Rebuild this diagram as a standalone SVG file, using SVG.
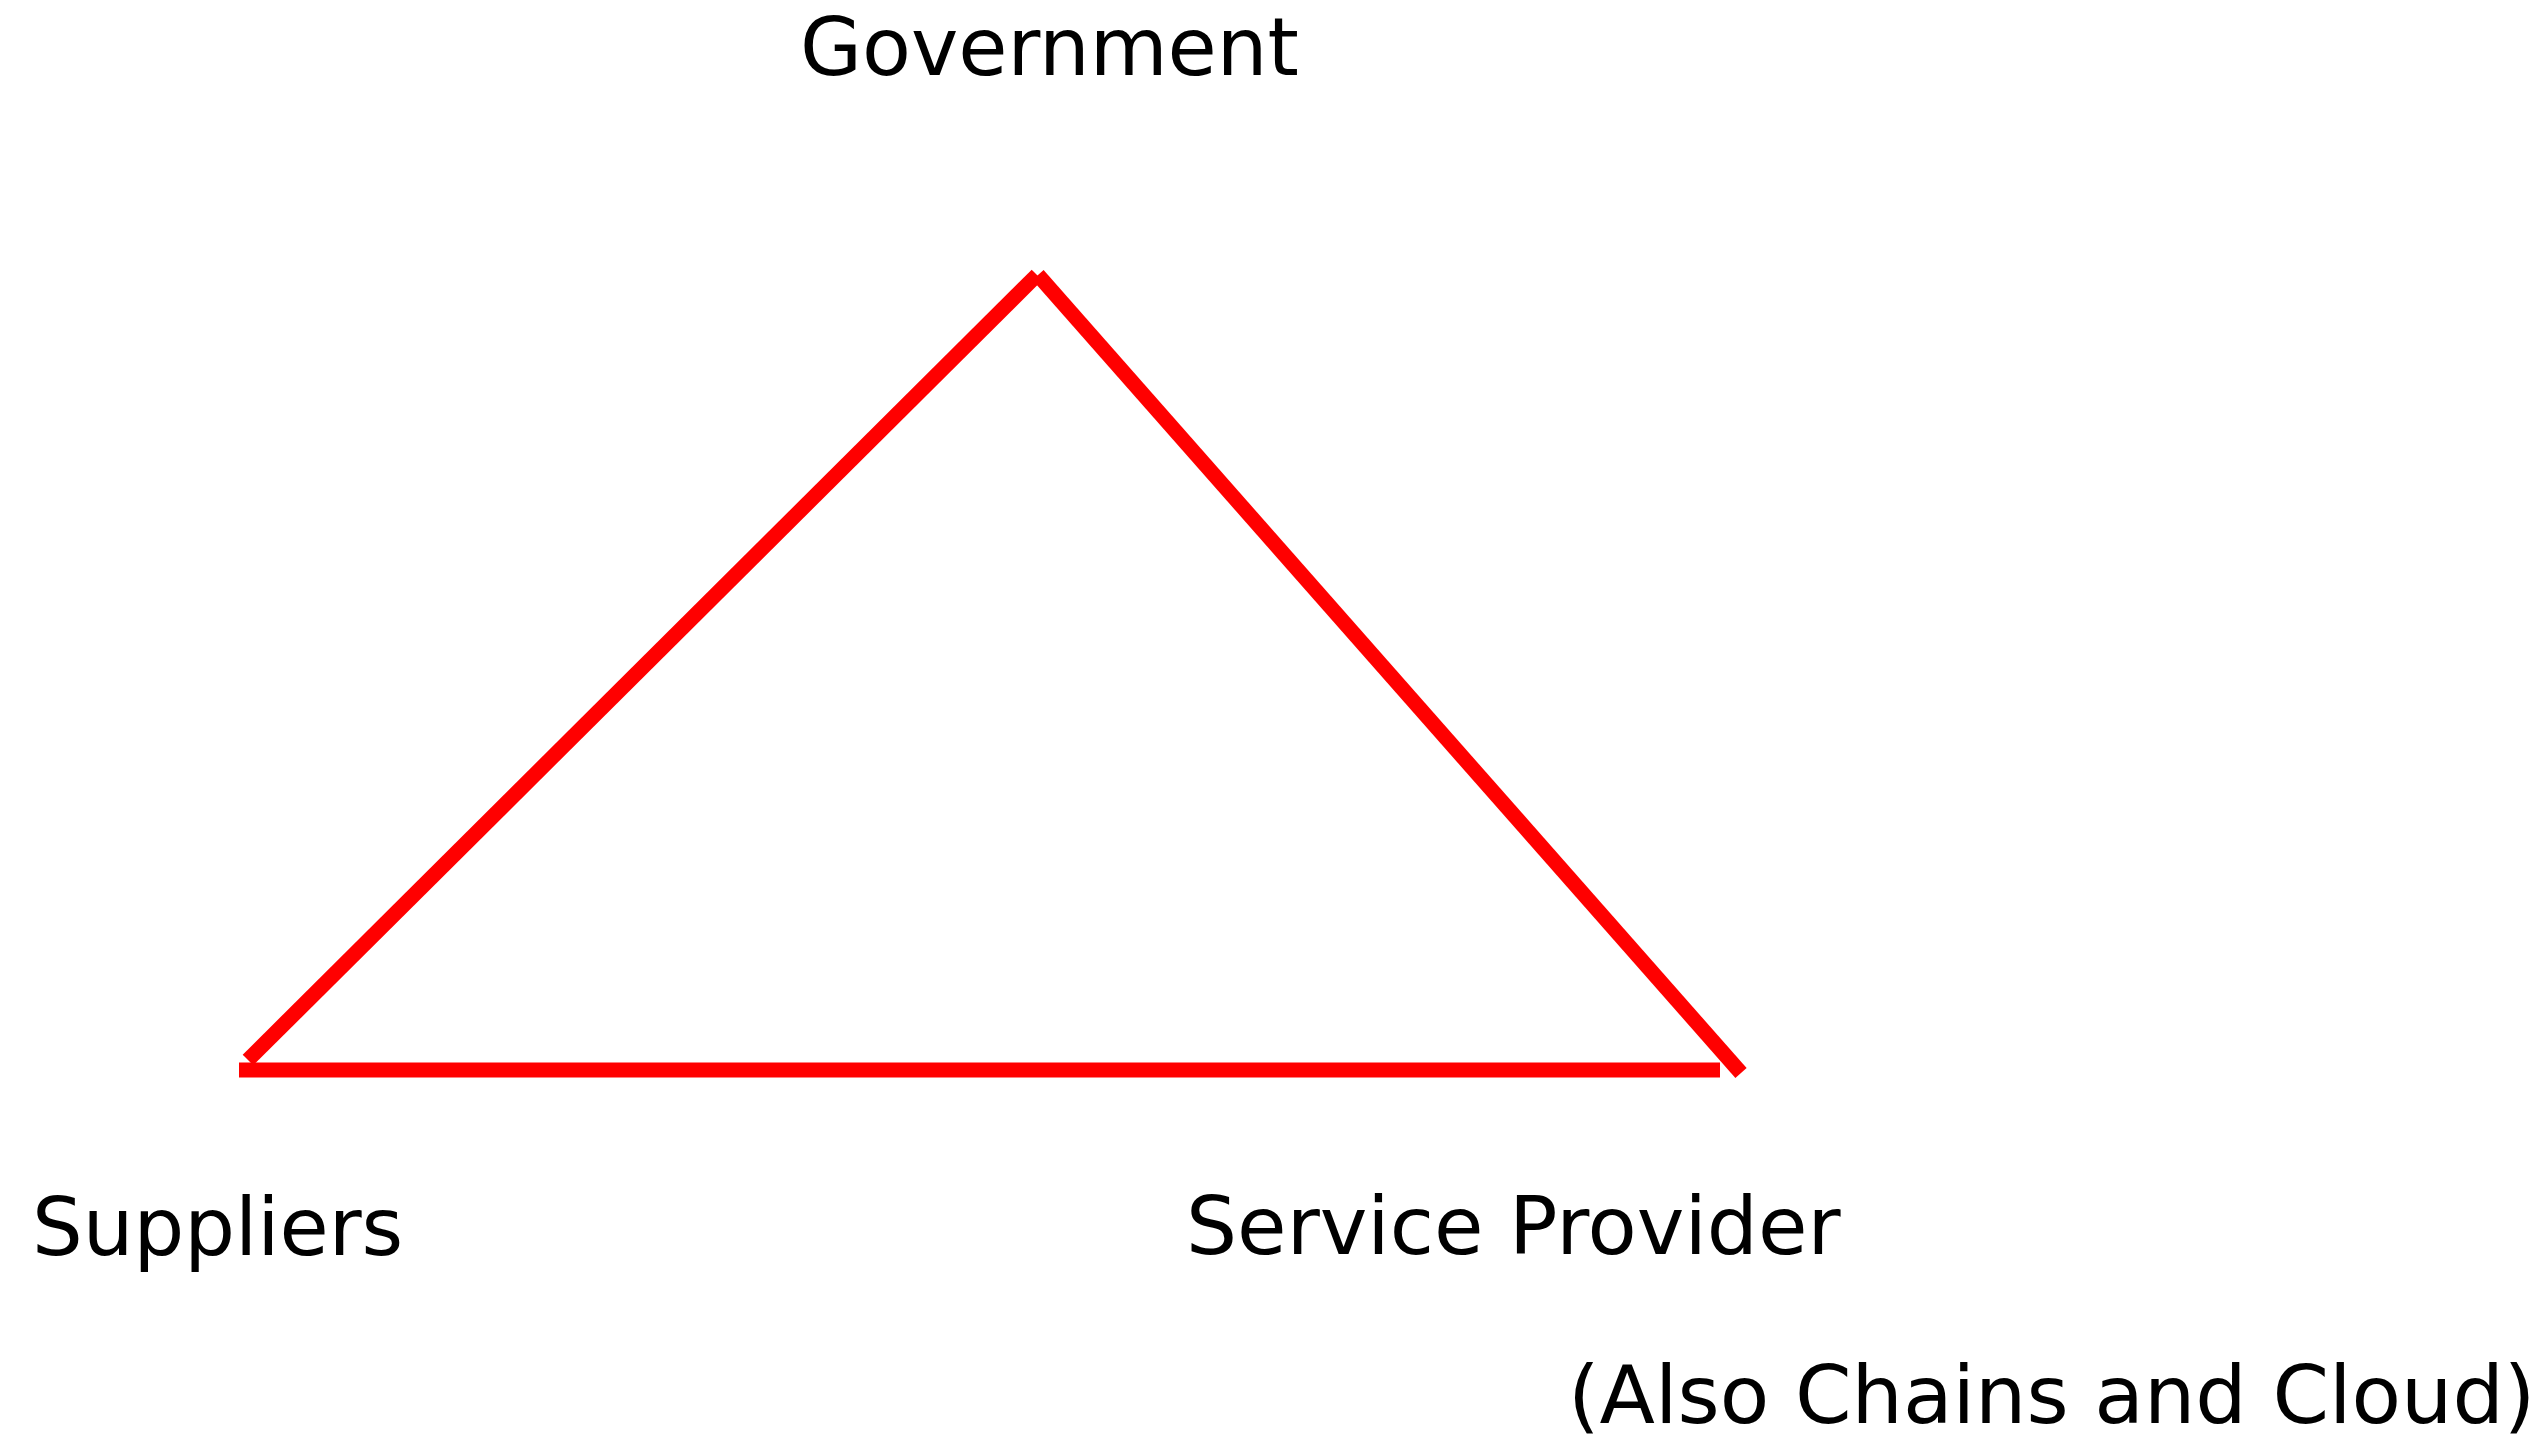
<svg xmlns="http://www.w3.org/2000/svg" width="2546" height="1441" viewBox="0 0 2546 1441">
<style>
.lbl{font-family:"DejaVu Sans",Verdana,sans-serif;font-size:80px;fill:#000}
.edge{stroke:#ff0000;stroke-width:15;fill:none;stroke-linecap:butt}
</style>
<rect width="2546" height="1441" fill="#fff"/>
<g id="connectors">
<line class="edge" x1="248" y1="1060" x2="1037" y2="275"/>
<line class="edge" x1="1038" y1="275" x2="1741" y2="1073"/>
<line class="edge" x1="239" y1="1070" x2="1720" y2="1070"/>
</g>
<g id="government"><text class="lbl" x="800" y="75">Government</text></g>
<g id="suppliers"><text class="lbl" x="32" y="1255">Suppliers</text></g>
<g id="service-provider"><text class="lbl" x="1186" y="1254" style="font-size:80.5px">Service Provider</text></g>
<g id="note"><text class="lbl" x="1568" y="1423" style="font-size:81px">(Also Chains and Cloud)</text></g>
</svg>
